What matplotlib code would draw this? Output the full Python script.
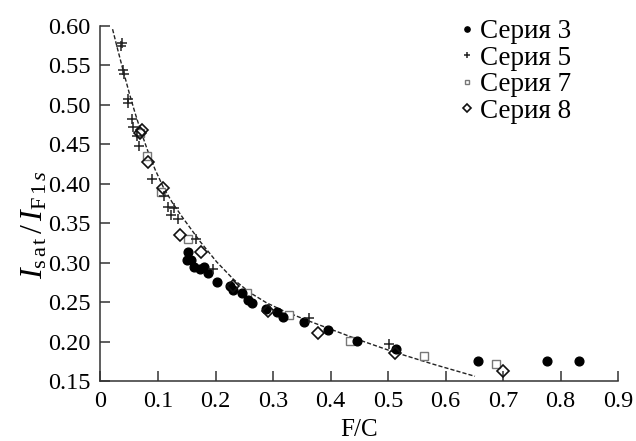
import matplotlib
matplotlib.use('Agg')
import matplotlib.pyplot as plt

plt.rcParams['font.family'] = 'serif'
plt.rcParams['font.serif'] = ['Liberation Serif', 'DejaVu Serif']
plt.rcParams['mathtext.fontset'] = 'custom'
plt.rcParams['mathtext.rm'] = 'Liberation Serif'
plt.rcParams['mathtext.it'] = 'Liberation Serif:italic'

# Серия 3 (filled circles)
s3_x = [0.153, 0.151, 0.157, 0.163, 0.173, 0.180, 0.187, 0.203, 0.225, 0.231,
        0.246, 0.257, 0.263, 0.287, 0.307, 0.318, 0.353, 0.396, 0.446, 0.513,
        0.657, 0.777, 0.832]
s3_y = [0.314, 0.304, 0.303, 0.294, 0.292, 0.294, 0.287, 0.276, 0.271, 0.265,
        0.262, 0.253, 0.249, 0.241, 0.237, 0.231, 0.225, 0.215, 0.201, 0.191,
        0.175, 0.175, 0.175]

# Серия 5 (crosses)
s5_x = [0.037, 0.036, 0.040, 0.041, 0.047, 0.048, 0.055, 0.056, 0.063, 0.067,
        0.089, 0.110, 0.117, 0.127, 0.123, 0.135, 0.166, 0.196, 0.363, 0.502]
s5_y = [0.579, 0.575, 0.544, 0.539, 0.507, 0.503, 0.482, 0.472, 0.461, 0.448,
        0.406, 0.384, 0.370, 0.369, 0.361, 0.356, 0.330, 0.292, 0.230, 0.197]

# Серия 7 (open squares)
s7_x = [0.069, 0.081, 0.105, 0.152, 0.255, 0.327, 0.434, 0.563, 0.687]
s7_y = [0.464, 0.435, 0.389, 0.330, 0.261, 0.234, 0.201, 0.182, 0.171]

# Серия 8 (open diamonds)
s8_x = [0.069, 0.073, 0.083, 0.108, 0.138, 0.175, 0.231, 0.291, 0.378, 0.512, 0.699]
s8_y = [0.464, 0.468, 0.427, 0.395, 0.335, 0.313, 0.270, 0.239, 0.211, 0.186, 0.163]

# fitted curve
fit_x = [0.021, 0.030, 0.040, 0.050, 0.060, 0.070, 0.083, 0.095, 0.109, 0.125,
         0.144, 0.173, 0.202, 0.231, 0.260, 0.289, 0.318, 0.359, 0.399, 0.450,
         0.509, 0.580, 0.651]
fit_y = [0.596, 0.570, 0.542, 0.515, 0.490, 0.467, 0.440, 0.418, 0.396, 0.376,
         0.356, 0.327, 0.301, 0.279, 0.262, 0.249, 0.239, 0.227, 0.216, 0.202,
         0.187, 0.171, 0.156]

fig = plt.figure(figsize=(6.36, 4.41), dpi=100)
ax = fig.add_axes([0.158, 0.136, 0.814, 0.805])

ax.plot(fit_x, fit_y, linestyle=(0, (3, 1.5)), color='#222222', linewidth=1.0, zorder=1)

ax.plot(s3_x, s3_y, 'o', color='black', markersize=6.3, linestyle='none', label='Серия 3', zorder=3)
ax.plot(s5_x, s5_y, '+', color='#222222', markersize=7, markeredgewidth=1.1, linestyle='none', label='Серия 5', zorder=3)
ax.plot(s7_x, s7_y, 's', markerfacecolor='white', markeredgecolor='#777777', markersize=6,
        markeredgewidth=1.0, linestyle='none', label='Серия 7', zorder=2)
ax.plot(s8_x, s8_y, 'D', markerfacecolor='none', markeredgecolor='#111111', markersize=6.5,
        markeredgewidth=1.2, linestyle='none', label='Серия 8', zorder=4)

ax.set_xlim(0, 0.9)
ax.set_ylim(0.15, 0.60)
ax.set_xticks([0, 0.1, 0.2, 0.3, 0.4, 0.5, 0.6, 0.7, 0.8, 0.9])
ax.set_xticklabels(['0', '0.1', '0.2', '0.3', '0.4', '0.5', '0.6', '0.7', '0.8', '0.9'])
ax.set_yticks([0.15, 0.20, 0.25, 0.30, 0.35, 0.40, 0.45, 0.50, 0.55, 0.60])
ax.yaxis.set_major_formatter(matplotlib.ticker.FormatStrFormatter('%.2f'))

for side in ['top', 'right']:
    ax.spines[side].set_visible(False)
for side in ['left', 'bottom']:
    ax.spines[side].set_linewidth(1.1)
    ax.spines[side].set_color('#333333')

ax.tick_params(direction='in', length=7, width=1.1, labelsize=17.5, color='#333333', pad=7)

ax.set_xlabel('F/C', fontsize=18, labelpad=5)
ax.set_ylabel(r'$I_{\rm s\,a\,t}\,/\,I_{\rm F\,1\,\mathit{s}}$', fontsize=23)
ax.yaxis.set_label_coords(-0.099, 0.44)

ax.legend(loc='upper right', fontsize=19.5, frameon=False, markerscale=0.6,
          handlelength=0.55, handletextpad=0.2, labelspacing=0.06,
          borderaxespad=0.0, bbox_to_anchor=(0.93, 1.05))

fig.savefig('out.png', dpi=100)
